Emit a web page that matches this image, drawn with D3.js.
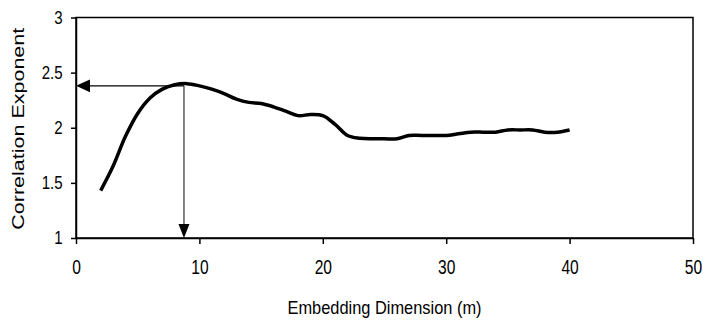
<!DOCTYPE html>
<html>
<head>
<meta charset="utf-8">
<script src="https://cdn.jsdelivr.net/npm/d3@7"></script>
<style>
  html, body { margin: 0; padding: 0; background: #fff; }
  svg { display: block; }
  text { font-family: "Liberation Sans", Arial, sans-serif; fill: #000; }
</style>
</head>
<body>
<svg id="chart" width="703" height="322"></svg>
<script>
// ---- data ----
const dims = [2,3,4,5,6,7,8,9,10,11,12,13,14,15,16,17,18,19,20,21,22,23,24,25,26,27,28,29,30,31,32,33,34,35,36,37,38,39,40];
const corrExp = [1.43,1.65,1.92,2.13,2.27,2.35,2.39,2.40,2.38,2.35,2.31,2.26,2.23,2.22,2.19,2.15,2.11,2.12,2.11,2.03,1.93,1.905,1.90,1.90,1.90,1.93,1.93,1.93,1.93,1.945,1.96,1.96,1.96,1.98,1.98,1.98,1.96,1.96,1.98];
const xTicks = [0,10,20,30,40,50];
const xTickLabels = ["0","10","20","30","40","50"];
const yTicks = [1,1.5,2,2.5,3];
const yTickLabels = ["1","1.5","2","2.5","3"];
const peakDim = 8.75;
const peakExp = 2.38;
const xTitle = "Embedding Dimension (m)";
const yTitle = "Correlation Exponent";

// ---- layout ----
const svg = d3.select("#chart");
const mLeft = 76, mRight = 693, mTop = 17.5, mBottom = 238;
const x = d3.scaleLinear().domain([0, 50]).range([mLeft, mRight]);
const y = d3.scaleLinear().domain([1, 3]).range([mBottom, mTop]);

// frame
svg.append("rect")
  .attr("x", mLeft).attr("y", mTop)
  .attr("width", mRight - mLeft).attr("height", mBottom - mTop)
  .attr("fill", "none").attr("stroke", "#000").attr("stroke-width", 1.5);

// y axis
const yAxis = svg.append("g")
  .attr("transform", `translate(${mLeft},0)`)
  .call(d3.axisLeft(y).tickValues(yTicks).tickFormat((d, i) => yTickLabels[i]).tickSize(5).tickPadding(8).tickSizeOuter(0));
yAxis.select(".domain").attr("stroke", "#000").attr("stroke-width", 1.5);
yAxis.selectAll(".tick line").attr("stroke", "#000").attr("stroke-width", 1.5);
yAxis.selectAll(".tick text")
  .attr("font-size", 17.5)
  .attr("font-family", "Liberation Sans, Arial, sans-serif")
  .attr("transform", "scale(0.86,1)")
  .attr("x", -15.5);

// x axis
const xAxis = svg.append("g")
  .attr("transform", `translate(0,${mBottom})`)
  .call(d3.axisBottom(x).tickValues(xTicks).tickFormat((d, i) => xTickLabels[i]).tickSize(6).tickPadding(20).tickSizeOuter(0));
xAxis.select(".domain").attr("stroke", "#000").attr("stroke-width", 1.5);
xAxis.selectAll(".tick line").attr("stroke", "#000").attr("stroke-width", 1.5);
xAxis.selectAll(".tick text")
  .attr("font-size", 19.5)
  .attr("font-family", "Liberation Sans, Arial, sans-serif")
  .attr("dy", 0)
  .attr("y", 36.5)
  .attr("transform", "scale(0.8,1)");

// axis titles
svg.append("text")
  .attr("x", (mLeft + mRight) / 2).attr("y", 314)
  .attr("text-anchor", "middle")
  .attr("font-size", 19)
  .attr("textLength", 194).attr("lengthAdjust", "spacingAndGlyphs")
  .text(xTitle);

svg.append("text")
  .attr("transform", `translate(24,${(mTop + mBottom) / 2 + 1}) rotate(-90)`)
  .attr("text-anchor", "middle")
  .attr("font-size", 17)
  .attr("textLength", 202).attr("lengthAdjust", "spacingAndGlyphs")
  .text(yTitle);

// curve
const line = d3.line()
  .x((d, i) => x(dims[i]))
  .y(d => y(d))
  .curve(d3.curveCatmullRom.alpha(0.5));
svg.append("path")
  .datum(corrExp)
  .attr("d", line)
  .attr("fill", "none")
  .attr("stroke", "#000")
  .attr("stroke-width", 3.5)
  .attr("stroke-linejoin", "round");

// arrows
const px = x(peakDim), py = y(peakExp);
const hx = x(0), vy = y(1);
const headL = 14, headW = 6.3;
svg.append("line")
  .attr("x1", px).attr("y1", py).attr("x2", hx + headL).attr("y2", py)
  .attr("stroke", "#000").attr("stroke-width", 1.2);
svg.append("path")
  .attr("d", `M${hx},${py} L${hx + headL},${py - headW} L${hx + headL},${py + headW} Z`)
  .attr("fill", "#000");
svg.append("line")
  .attr("x1", px).attr("y1", py).attr("x2", px).attr("y2", vy - headL)
  .attr("stroke", "#333").attr("stroke-width", 1.2);
svg.append("path")
  .attr("d", `M${px},${vy} L${px - 5.5},${vy - headL} L${px + 5.5},${vy - headL} Z`)
  .attr("fill", "#000");
</script>
</body>
</html>
